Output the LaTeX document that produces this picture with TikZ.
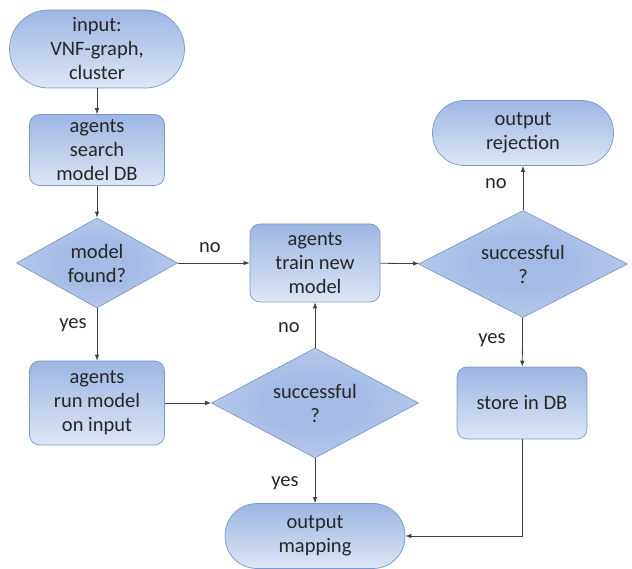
\documentclass[tikz,border=0pt]{standalone}
\usepackage{fontspec}
\setmainfont{Carlito}
\usetikzlibrary{shapes.geometric,arrows.meta}
\definecolor{topc}{HTML}{9CB6E3}
\definecolor{botc}{HTML}{DDE6F5}
\definecolor{dcen}{HTML}{A3BBE5}
\definecolor{dedge}{HTML}{D9E3F4}
\definecolor{bord}{HTML}{7A98CC}
\definecolor{txt}{HTML}{262626}
\definecolor{lin}{HTML}{404040}
\pgfdeclareradialshading{diashade}{\pgfpoint{0bp}{0bp}}{color(0bp)=(dcen); color(12bp)=(dcen); color(50bp)=(dedge); color(100bp)=(dedge)}
\tikzset{
  base/.style={draw=bord, line width=0.7pt, text=txt, align=center, inner sep=0pt,
    font=\fontsize{20.5}{24}\selectfont},
  term/.style={base, rectangle, top color=topc, bottom color=botc, rounded corners=#1},
  procbox/.style={base, rectangle, top color=topc, bottom color=botc, rounded corners=10pt},
  decision/.style={base, diamond, shading=diashade, aspect=1.85},
  conn/.style={draw=lin, line width=0.8pt, -{Latex[length=6pt,width=4.5pt]}},
  lbl/.style={text=txt, font=\fontsize{20.5}{24}\selectfont, inner sep=0pt}
}
\begin{document}
\begin{tikzpicture}[x=1pt,y=-1pt]
\useasboundingbox (0,0) rectangle (632,569);
% nodes
\node[term=39pt, minimum width=175pt, minimum height=78pt] (in) at (97,49) {input:\\VNF-graph,\\cluster};
\node[procbox, minimum width=135pt, minimum height=71pt] (search) at (97,150) {agents\\search\\model DB};
\node[decision, minimum width=161pt, minimum height=90pt] (found) at (97,263) {model\\found?};
\node[procbox, minimum width=135pt, minimum height=84pt] (run) at (97,403) {agents\\run model\\on input};
\node[procbox, minimum width=130pt, minimum height=78pt] (train) at (315,263) {agents\\train new\\model};
\node[decision, minimum width=207pt, minimum height=110pt] (succ1) at (315,403) {successful\\?};
\node[decision, minimum width=209pt, minimum height=107pt] (succ2) at (523,264) {successful\\?};
\node[term=32pt, minimum width=181pt, minimum height=65pt] (rej) at (523,133) {output\\rejection};
\node[procbox, minimum width=130pt, minimum height=72pt] (store) at (522,403) {store in DB};
\node[term=32pt, minimum width=180pt, minimum height=65pt] (map) at (315,536) {output\\mapping};
\coordinate (corner) at (store.south |- map.east);
% connectors
\draw[conn] (in) -- (search);
\draw[conn] (search) -- (found);
\draw[conn] (found) -- (run);
\draw[conn] (found) -- (train);
\draw[conn] (run) -- (succ1);
\draw[conn] (succ1) -- (train);
\draw[conn] (succ1) -- (map);
\draw[conn] (train) -- (succ2);
\draw[conn] (succ2) -- (rej);
\draw[conn] (succ2) -- (store);
\draw[conn] (store.south) -- (corner) -- (map.east);
% labels
\node[lbl] (l1) at (210,248) {no};
\node[lbl] (l2) at (73,325) {yes};
\node[lbl] (l3) at (289,328) {no};
\node[lbl] (l4) at (496,184) {no};
\node[lbl] (l5) at (492,340) {yes};
\node[lbl] (l6) at (285,483) {yes};
\end{tikzpicture}
\end{document}
